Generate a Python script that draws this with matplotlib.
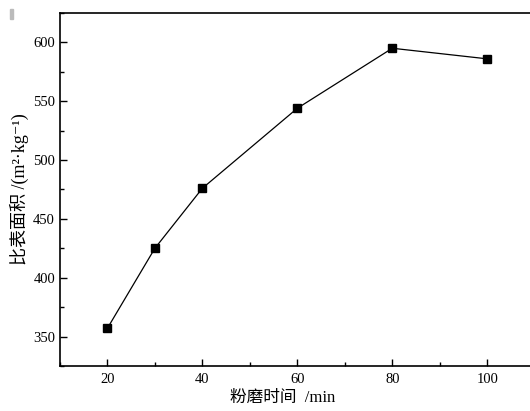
import matplotlib
matplotlib.use("Agg")
import matplotlib.pyplot as plt
from matplotlib.ticker import MultipleLocator
from matplotlib.patches import Rectangle

# grinding time (min) vs specific surface area (m2/kg)
grind_time = [20, 30, 40, 60, 80, 100]
surface_area = [357, 425, 476, 544, 595, 586]

plt.rcParams['font.family'] = ['Liberation Serif', 'Noto Sans CJK SC', 'DejaVu Serif']

fig = plt.figure(figsize=(5.3, 4.11), dpi=100)
ax = fig.add_axes([0.113, 0.1095, 0.896, 0.859])

ax.plot(grind_time, surface_area, color='black', linewidth=0.9,
        marker='s', markersize=5.5)

ax.set_xlim(10, 110)
ax.set_ylim(325, 625)
ax.xaxis.set_major_locator(MultipleLocator(20))
ax.xaxis.set_minor_locator(MultipleLocator(10))
ax.yaxis.set_major_locator(MultipleLocator(50))
ax.yaxis.set_minor_locator(MultipleLocator(25))
ax.tick_params(which='both', direction='in', labelsize=10.5, width=1.0)
ax.tick_params(which='major', length=5)
ax.tick_params(which='minor', length=3)
ax.tick_params(axis='x', pad=5)
for s in ax.spines.values():
    s.set_linewidth(1.2)

ax.set_xlabel('粉磨时间  /min', fontsize=12)
ax.xaxis.set_label_coords(0.47, -0.068)
ax.set_ylabel('比表面积 /(m²·kg⁻¹)', fontsize=13)
ax.yaxis.set_label_coords(-0.066, 0.5)

# small grey mark in the upper-left corner
fig.patches.append(Rectangle((10 / 530, 1 - 19 / 411), 3 / 530, 10 / 411,
                             transform=fig.transFigure, color='#bbbbbb'))

fig.savefig('out.png', dpi=100)
